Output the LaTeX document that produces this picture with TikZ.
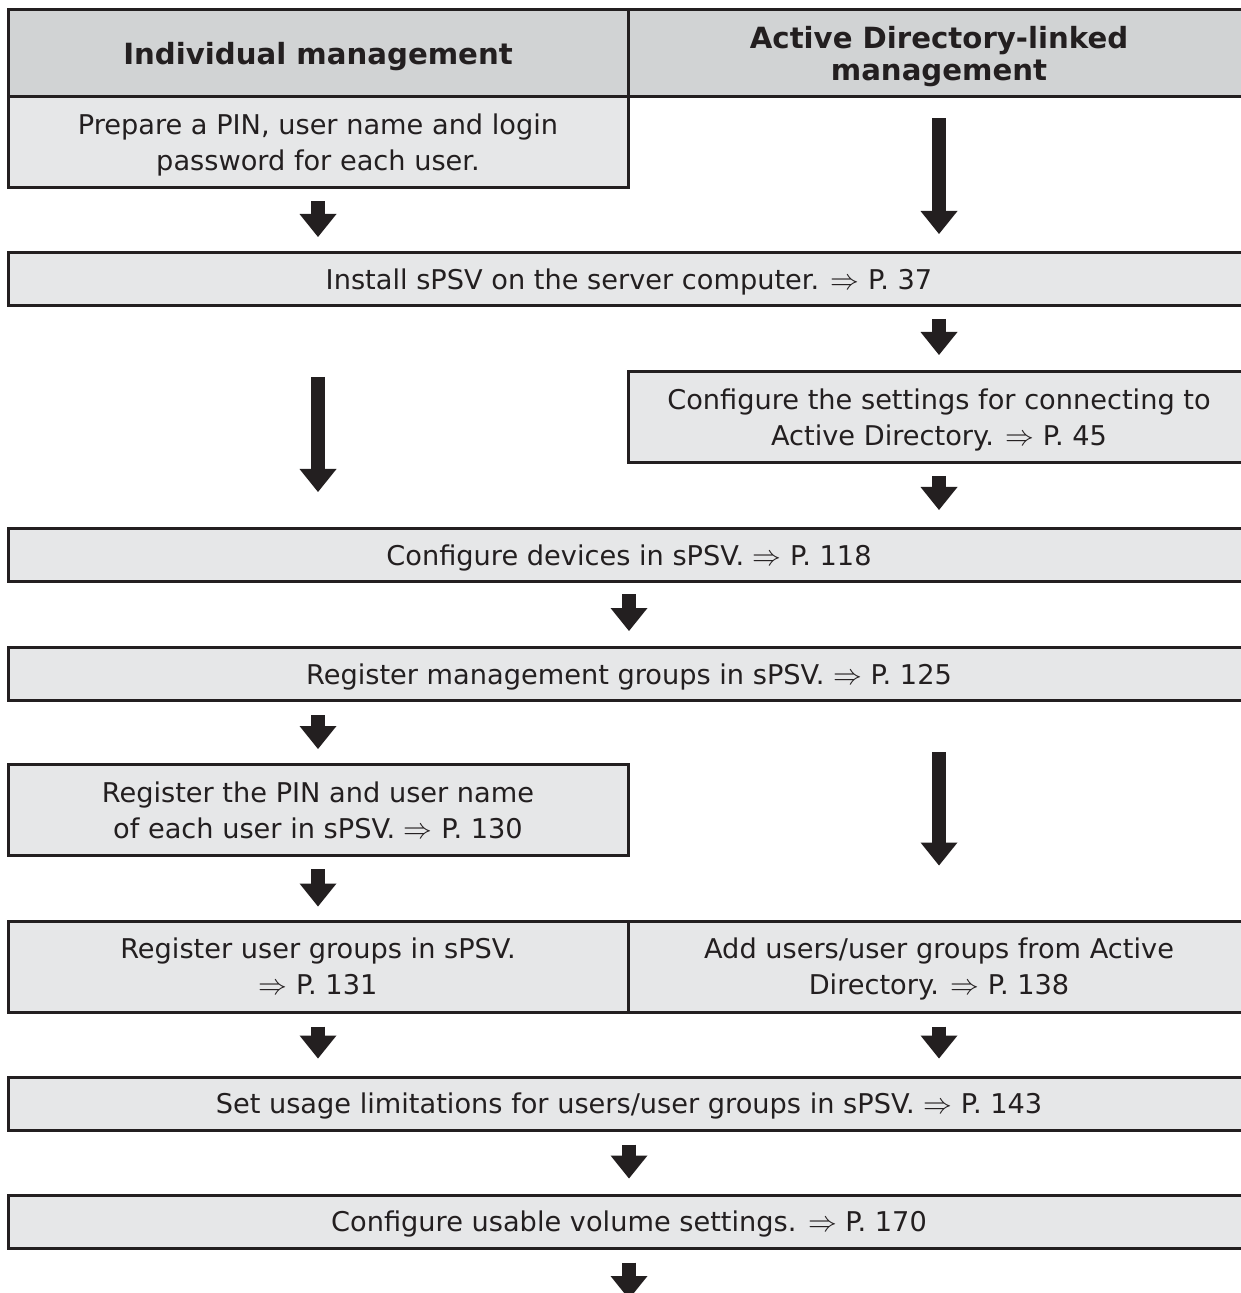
\documentclass[tikz,border=0pt]{standalone}
\usepackage{fontspec}
\setmainfont{DejaVu Sans}
\usetikzlibrary{arrows.meta}
\definecolor{hdrgray}{HTML}{D1D3D4}
\definecolor{boxgray}{HTML}{E6E7E8}
\definecolor{ink}{HTML}{231F20}
\newcommand{\pg}{$\Rightarrow$}

\begin{document}
\begin{tikzpicture}[x=0.5pt, y=-0.5pt,
    every node/.style={inner sep=0pt, align=center, text=ink, text depth=0pt, font=\fontsize{13.6}{18}\selectfont},
    hdr/.style={draw=ink, line width=1.5pt, fill=hdrgray, minimum height=43.5pt, font=\fontsize{14.6}{16}\selectfont\bfseries},
    stepbox/.style={draw=ink, line width=1.5pt, fill=boxgray},
    half/.style={stepbox, minimum width=310pt, minimum height=45.5pt},
    full/.style={stepbox, minimum width=621pt, minimum height=26.5pt},
    flow/.style={draw=ink, line width=7pt, -{Triangle[width=18.5pt, length=11.5pt, line width=0pt]}}]
    \useasboundingbox (0,0) rectangle (1240,1293);
    % column heads
    \node[hdr, minimum width=310pt] (hindiv) at (318,53.5) {Individual management};
    \node[hdr, minimum width=311pt] (had) at (939,53.5) {Active Directory-linked\\management};
    % steps
    \node[half] (prep) at (318,142.5) {Prepare a PIN, user name and login\\password for each user.};
    \node[full] (install) at (629,279) {Install sPSV on the server computer. \pg{} P. 37};
    \node[half, minimum width=311pt] (adconf) at (939,417) {Configure the settings for connecting to\\Active Directory. \pg{} P. 45};
    \node[full] (devices) at (629,555) {Configure devices in sPSV. \pg{} P. 118};
    \node[full] (mgmt) at (629,674) {Register management groups in sPSV. \pg{} P. 125};
    \node[half] (pin) at (318,810) {Register the PIN and user name\\of each user in sPSV. \pg{} P. 130};
    \node[half] (ugroups) at (318,966.5) {Register user groups in sPSV.\\\pg{} P. 131};
    \node[half, minimum width=311pt] (adusers) at (939,966.5) {Add users/user groups from Active\\Directory. \pg{} P. 138};
    \node[full] (limits) at (629,1103.5) {Set usage limitations for users/user groups in sPSV. \pg{} P. 143};
    \node[full] (volume) at (629,1221.5) {Configure usable volume settings. \pg{} P. 170};
    \coordinate (fin) at (629,1299);
    % arrows
    \draw[flow, shorten <=6pt, shorten >=7pt] (prep.south) -- (install.north -| prep.south);
    \draw[flow, shorten <=10pt, shorten >=8.5pt] (had.south) -- (install.north -| had.south);
    \draw[flow, shorten <=6pt, shorten >=7.5pt] (install.south -| adconf.north) -- (adconf.north);
    \draw[flow, shorten <=35pt, shorten >=17.5pt] (install.south -| prep.south) -- (devices.north -| prep.south);
    \draw[flow, shorten <=6pt, shorten >=8.5pt] (adconf.south) -- (devices.north -| adconf.south);
    \draw[flow, shorten <=5.5pt, shorten >=7.5pt] (devices.south) -- (mgmt.north);
    \draw[flow, shorten <=6.5pt, shorten >=7pt] (mgmt.south -| pin.north) -- (pin.north);
    \draw[flow, shorten <=25pt, shorten >=27pt] (mgmt.south -| adusers.north) -- (adusers.north);
    \draw[flow, shorten <=6pt, shorten >=6.5pt] (pin.south) -- (ugroups.north);
    \draw[flow, shorten <=6.5pt, shorten >=8.5pt] (ugroups.south) -- (limits.north -| ugroups.south);
    \draw[flow, shorten <=6.5pt, shorten >=8.5pt] (adusers.south) -- (limits.north -| adusers.south);
    \draw[flow, shorten <=6.5pt, shorten >=7.5pt] (limits.south) -- (volume.north);
    \draw[flow, shorten <=6.5pt] (volume.south) -- (fin);
\end{tikzpicture}
\end{document}
